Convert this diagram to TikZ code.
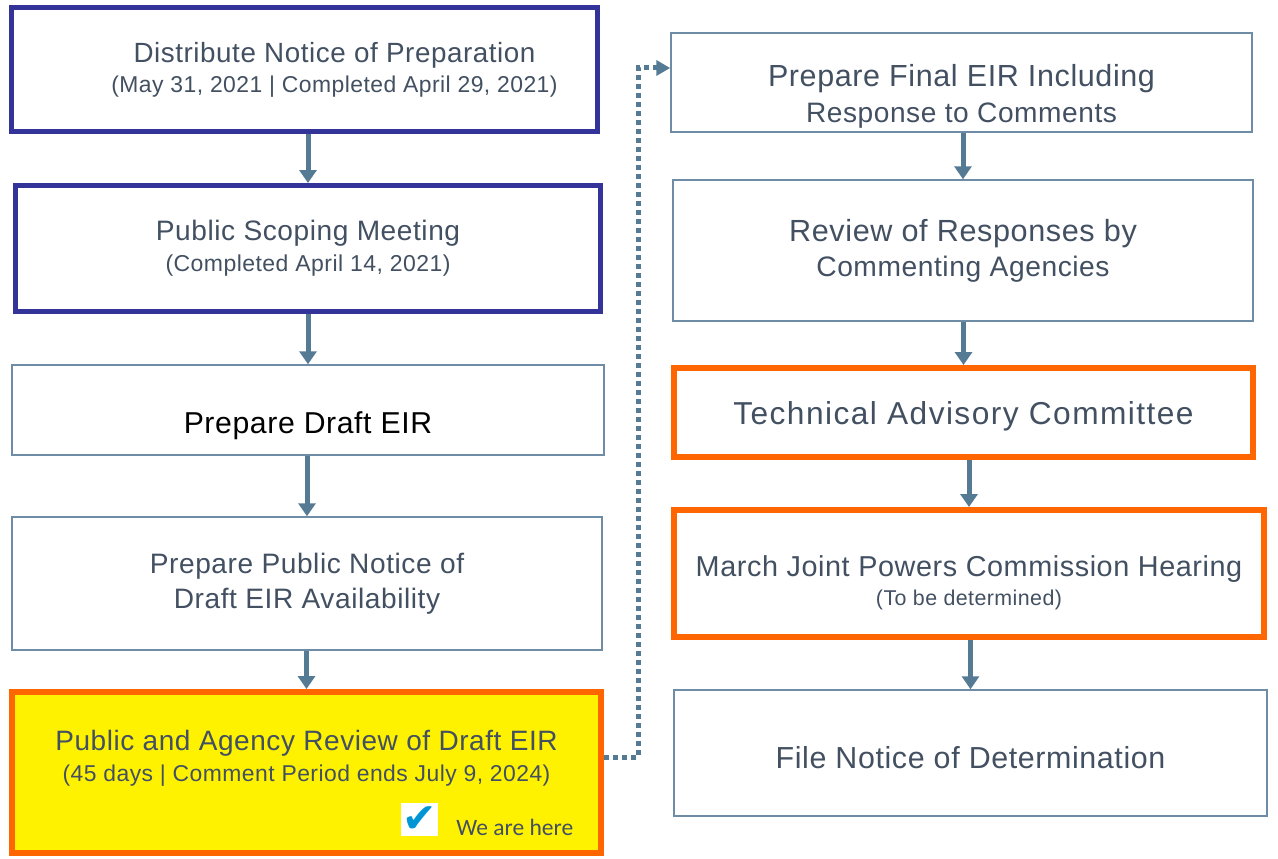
\documentclass[tikz,border=0pt]{standalone}
\usepackage{fontspec}
\setmainfont{Liberation Sans}[LetterSpace=2]
\newfontfamily\herefont{Carlito}
\newfontfamily\tickfont{DejaVu Sans}
\usetikzlibrary{arrows.meta, positioning}
\definecolor{navy1}{RGB}{51, 51, 153}
\definecolor{orange1}{RGB}{255, 102, 0}
\definecolor{steel1}{RGB}{84, 122, 148}
\definecolor{frame1}{RGB}{110, 140, 165}
\definecolor{slate1}{RGB}{66, 80, 98}
\definecolor{tick1}{RGB}{0, 150, 214}
\newcommand{\datenote}{\fontsize{22.9}{27}\selectfont}

\tikzset{
  stage/.style={draw=frame1, line width=1.5pt, fill=white, align=center, text=slate1, inner sep=0pt},
  donestage/.style={stage, draw=navy1, line width=5pt},
  keystage/.style={stage, draw=orange1, line width=6pt},
  flow/.style={draw=steel1, line width=5pt, -{Triangle[width=17pt, length=13pt]}},
  jump/.style={draw=steel1, line width=5pt, dash pattern=on 5pt off 4pt, -{Triangle[width=15pt, length=14pt]}}
}

\begin{document}
\begin{tikzpicture}[x=1pt, y=-1pt]
  \useasboundingbox (0,0) rectangle (1278,859);

  % left column
  \node[donestage, minimum width=586pt, minimum height=124pt, font=\fontsize{27.8}{30.2}\selectfont] (notice) at (304.5, 69.5) {
    \hspace*{60pt}Distribute Notice of Preparation\\
    \hspace*{60pt}{\datenote(May 31, 2021 | Completed April 29, 2021)}};
  \node[donestage, minimum width=585pt, minimum height=126pt, font=\fontsize{28.1}{31}\selectfont] (scoping) at (308, 248.5) {
    Public Scoping Meeting\\
    {\fontsize{23}{27}\selectfont(Completed April 14, 2021)}};
  \node[stage, minimum width=592pt, minimum height=90pt, text=black, text height=54pt, text depth=6.3pt, font=\fontsize{30.2}{34}\selectfont] (draft) at (308, 410) {Prepare Draft EIR};
  \node[stage, minimum width=590pt, minimum height=133pt, font=\fontsize{28.1}{35}\selectfont] (availability) at (307, 583.5) {
    Prepare Public Notice of\\
    Draft EIR Availability};
  \node[keystage, fill=yellow, minimum width=589pt, minimum height=161pt, text height=23pt, text depth=6pt, font=\fontsize{28}{30.2}\selectfont] (review) at (306.5, 772.5) {
    Public and Agency Review of Draft EIR\\
    {\datenote(45 days | Comment Period ends July 9, 2024)}};
  \node[fill=white, minimum width=37pt, minimum height=33pt, inner sep=0pt, text=tick1, font=\tickfont\fontsize{41}{41}\selectfont] (tick) at (419.5, 819.5) {✔};
  \node[right=18pt of tick, yshift=-8pt, inner sep=0pt, text=slate1, font=\herefont\fontsize{23.5}{26}\selectfont] (here) {We are here};

  % right column
  \node[stage, minimum width=581pt, minimum height=99pt, text height=86pt, text depth=7pt, font=\fontsize{28.1}{35.2}\selectfont] (final) at (961.5, 82.5) {
    {\fontsize{30.5}{35}\selectfont Prepare Final EIR Including}\\
    Response to Comments};
  \node[stage, minimum width=580pt, minimum height=141pt, font=\fontsize{28.2}{35.2}\selectfont] (responses) at (963, 250.5) {
    {\fontsize{30.6}{35}\selectfont Review of Responses by}\\
    Commenting Agencies};
  \node[keystage, minimum width=579pt, minimum height=89pt, text height=23.6pt, text depth=0pt, font=\fontsize{31.7}{36}\selectfont\addfontfeatures{LetterSpace=4.5}] (tac) at (963.5, 412.5) {Technical Advisory Committee};
  \node[keystage, minimum width=590pt, minimum height=127pt, text height=70.4pt, text depth=6pt, font=\fontsize{28.8}{29.4}\selectfont] (hearing) at (969, 573.5) {
    March Joint Powers Commission Hearing\\
    {\fontsize{21.4}{25}\selectfont(To be determined)}};
  \node[stage, minimum width=593pt, minimum height=126pt, text height=31.8pt, text depth=0pt, font=\fontsize{30.4}{35}\selectfont] (determination) at (970.5, 753) {File Notice of Determination};

  % arrows
  \foreach \a/\b in {notice/scoping, scoping/draft, draft/availability, availability/review,
                     final/responses, responses/tac, tac/hearing, hearing/determination}
    \draw[flow] (\b.north |- \a.south) -- (\b.north);

  % jump to the right column
  \coordinate (jumplow) at (638, 757);
  \coordinate (jumphigh) at (638, 68);
  \draw[jump] (review.east |- jumplow) -- (jumplow) -- (jumphigh) -- (final.west |- jumphigh);
\end{tikzpicture}
\end{document}
